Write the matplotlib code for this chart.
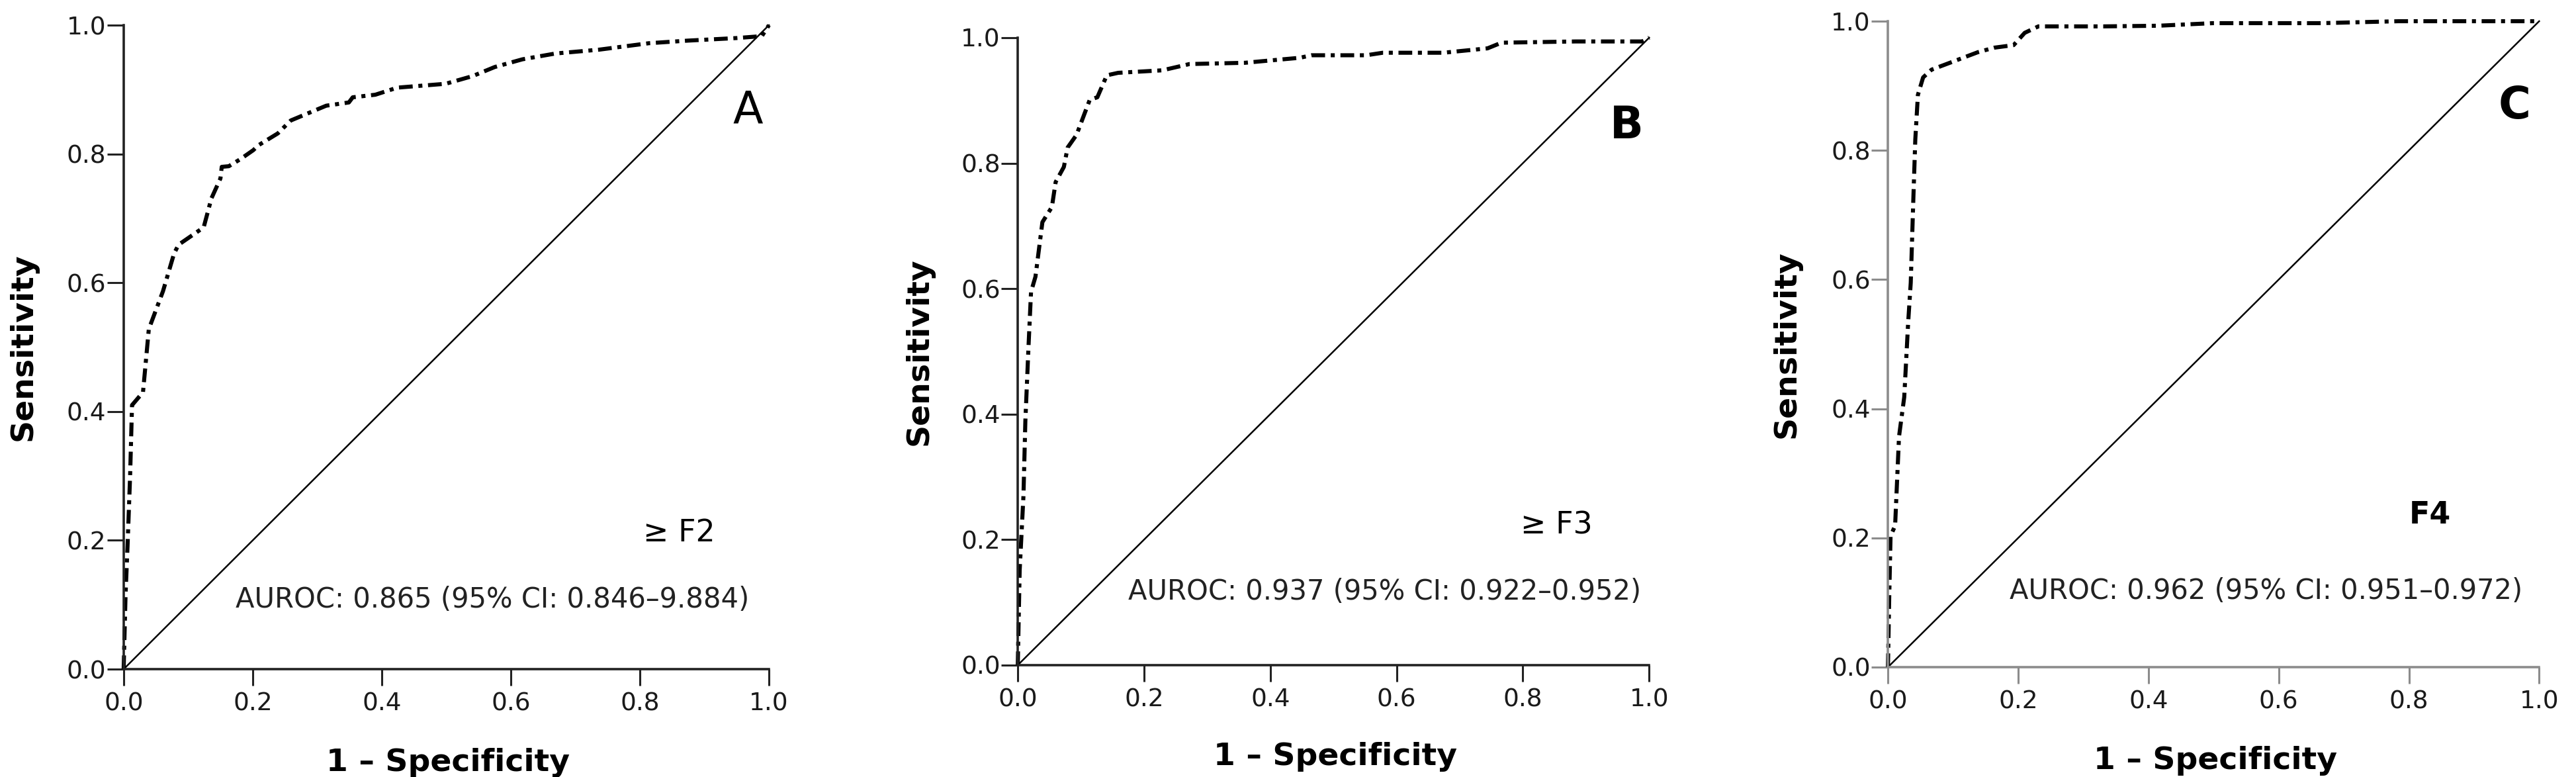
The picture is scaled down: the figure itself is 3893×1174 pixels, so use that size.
import numpy as np
import matplotlib.pyplot as plt

plt.rcParams['font.family'] = ['DejaVu Sans']

# Courbe ROC - panel A (>= F2)
fpr_a = [0.0, 0.003, 0.006, 0.010, 0.013, 0.030, 0.039, 0.061, 0.078, 0.085, 0.124, 0.136,
         0.150, 0.152, 0.163, 0.181, 0.201, 0.208, 0.239, 0.259, 0.314, 0.349, 0.355, 0.390,
         0.424, 0.499, 0.541, 0.575, 0.618, 0.669, 0.737, 0.814, 0.874, 0.950, 0.989, 1.0]
tpr_a = [0.0, 0.117, 0.190, 0.300, 0.410, 0.430, 0.528, 0.587, 0.645, 0.659, 0.686, 0.731,
         0.762, 0.780, 0.781, 0.792, 0.806, 0.813, 0.832, 0.852, 0.875, 0.880, 0.888, 0.892,
         0.903, 0.909, 0.921, 0.935, 0.947, 0.956, 0.962, 0.972, 0.976, 0.980, 0.983, 1.0]

# Courbe ROC - panel B (>= F3)
fpr_b = [0.0, 0.003, 0.009, 0.012, 0.017, 0.021, 0.028, 0.039, 0.054, 0.060, 0.073, 0.079,
         0.093, 0.102, 0.114, 0.126, 0.141, 0.159, 0.229, 0.272, 0.360, 0.403, 0.447, 0.465,
         0.552, 0.578, 0.674, 0.744, 0.766, 0.884, 0.989, 1.0]
tpr_b = [0.0, 0.151, 0.270, 0.389, 0.508, 0.595, 0.619, 0.706, 0.730, 0.770, 0.794, 0.825,
         0.845, 0.869, 0.901, 0.905, 0.940, 0.944, 0.948, 0.958, 0.960, 0.964, 0.968, 0.972,
         0.972, 0.976, 0.976, 0.983, 0.992, 0.994, 0.994, 1.0]

# Courbe ROC - panel C (F4)
fpr_c = [0.0, 0.002, 0.004, 0.011, 0.017, 0.025, 0.031, 0.035, 0.039, 0.042, 0.046, 0.054,
         0.067, 0.096, 0.138, 0.163, 0.193, 0.210, 0.231, 0.331, 0.415, 0.499, 0.666, 0.784, 1.0]
tpr_c = [0.0, 0.111, 0.203, 0.219, 0.357, 0.418, 0.533, 0.595, 0.725, 0.817, 0.886, 0.913,
         0.925, 0.936, 0.952, 0.959, 0.963, 0.982, 0.992, 0.992, 0.993, 0.997, 0.997, 1.0, 1.0]

# Ligne de reference (hasard)
diag = [0.0, 1.0]

panel_letters = ["A", "B", "C"]
letter_weights = ["normal", "bold", "bold"]
stage_labels = ["\u2265 F2", "\u2265 F3", "F4"]
stage_weights = ["medium", "medium", "bold"]
auroc_texts = ["AUROC: 0.865 (95% CI: 0.846\u20139.884)",
               "AUROC: 0.937 (95% CI: 0.922\u20130.952)",
               "AUROC: 0.962 (95% CI: 0.951\u20130.972)"]
tick_values = [0.0, 0.2, 0.4, 0.6, 0.8, 1.0]

curves = [(fpr_a, tpr_a), (fpr_b, tpr_b), (fpr_c, tpr_c)]

# Positions des axes (fraction de la figure)
axes_pos = [[0.0480, 0.1388, 0.2505, 0.8288],
            [0.3951, 0.1440, 0.2451, 0.8075],
            [0.7329, 0.1414, 0.2528, 0.8313]]
spine_colors = ["#222222", "#222222", "#8c8c8c"]
letter_xy = [(0.967, 0.867), (0.964, 0.860), (0.962, 0.869)]
stage_xy = [(0.861, 0.211), (0.853, 0.222), (0.832, 0.235)]
auroc_xy = [(0.571, 0.108), (0.581, 0.117), (0.581, 0.118)]

fig = plt.figure(figsize=(38.93, 11.74), dpi=100)

for i in range(3):
    ax = fig.add_axes(axes_pos[i])
    fpr, tpr = curves[i]

    # Courbe ROC en trait mixte
    ax.plot(fpr, tpr, color="black", lw=4.4, dashes=(3.4, 1.4, 1.0, 1.4), clip_on=False)
    # Diagonale
    ax.plot(diag, diag, color="black", lw=1.8, clip_on=False)

    ax.set_xlim(0, 1)
    ax.set_ylim(0, 1)
    ax.set_xticks(tick_values)
    ax.set_yticks(tick_values)
    ax.set_xticklabels(["%.1f" % v for v in tick_values])
    ax.set_yticklabels(["%.1f" % v for v in tick_values])

    for s in ["top", "right"]:
        ax.spines[s].set_visible(False)
    for s in ["left", "bottom"]:
        ax.spines[s].set_color(spine_colors[i])
        ax.spines[s].set_linewidth(2.6)

    ax.tick_params(axis="both", length=18, width=2.2, labelsize=27, color=spine_colors[i],
                   labelcolor="#1a1a1a")
    ax.tick_params(axis="y", pad=1)
    ax.tick_params(axis="x", pad=7)

    ax.set_xlabel("1 \u2013 Specificity", fontsize=34, fontweight="bold")
    ax.set_ylabel("Sensitivity", fontsize=34, fontweight="bold")
    ax.xaxis.set_label_coords(0.503, -0.122)
    ax.yaxis.set_label_coords(-0.133, 0.5)

    # Annotations
    ax.text(letter_xy[i][0], letter_xy[i][1], panel_letters[i], transform=ax.transAxes,
            ha="center", va="center", fontsize=48, fontweight=letter_weights[i])
    ax.text(stage_xy[i][0], stage_xy[i][1], stage_labels[i], transform=ax.transAxes,
            ha="center", va="center", fontsize=33, fontweight=stage_weights[i])
    ax.text(auroc_xy[i][0], auroc_xy[i][1], auroc_texts[i], transform=ax.transAxes,
            ha="center", va="center", fontsize=30, color="#222222")

fig.savefig("out.png", dpi=100)
